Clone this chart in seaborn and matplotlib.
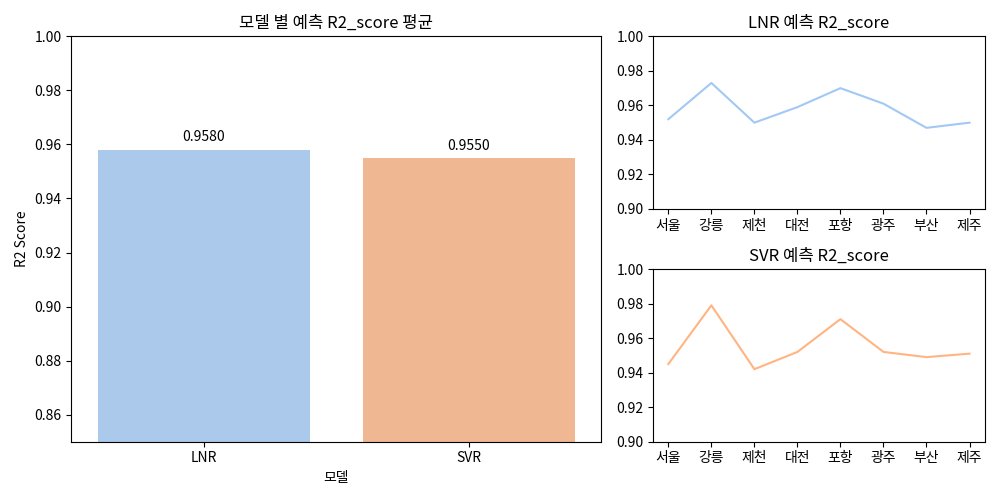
import matplotlib
matplotlib.use('Agg')
import matplotlib.pyplot as plt
import seaborn as sns
import pandas as pd

models = ['LNR', 'SVR']
mean_scores = [0.958, 0.955]
cities = ['서울', '강릉', '제천', '대전', '포항', '광주', '부산', '제주']
lnr_scores = [0.952, 0.973, 0.950, 0.959, 0.970, 0.961, 0.947, 0.950]
svr_scores = [0.945, 0.979, 0.942, 0.952, 0.971, 0.952, 0.949, 0.951]

plt.rcParams['font.family'] = ['Noto Sans CJK KR', 'DejaVu Sans']
plt.rcParams['axes.unicode_minus'] = False
pal = sns.color_palette('pastel')

fig = plt.figure(figsize=(10, 5), dpi=100)
gs = fig.add_gridspec(2, 2, width_ratios=[1.6, 1])
ax = fig.add_subplot(gs[:, 0])
ax1 = fig.add_subplot(gs[0, 1])
ax2 = fig.add_subplot(gs[1, 1])

df = pd.DataFrame({'모델': models, 'score': mean_scores})
sns.barplot(data=df, x='모델', y='score', hue='모델', palette=pal[:2], ax=ax, legend=False)
ax.set_ylim(0.85, 1.0)
ax.set_ylabel('R2 Score')
ax.set_title('모델 별 예측 R2_score 평균')
for i, v in enumerate(mean_scores):
    ax.text(i, v + 0.002, f'{v:.4f}', ha='center', va='bottom')

for a, vals, color, name in [(ax1, lnr_scores, pal[0], 'LNR'), (ax2, svr_scores, pal[1], 'SVR')]:
    sns.lineplot(x=cities, y=vals, color=color, ax=a, sort=False)
    a.set_ylim(0.90, 1.0)
    a.set_title(f'{name} 예측 R2_score')

fig.tight_layout()
fig.savefig('out.png')
